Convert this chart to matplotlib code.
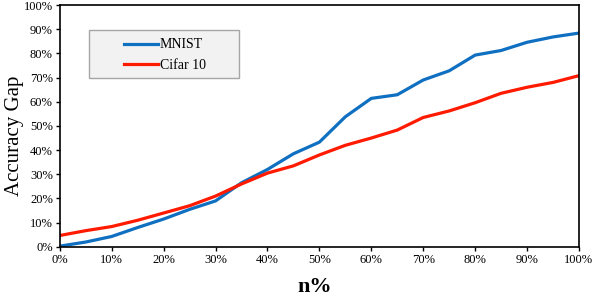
import matplotlib
matplotlib.use('Agg')
import matplotlib.pyplot as plt
from matplotlib.patches import Rectangle
from matplotlib.ticker import PercentFormatter

plt.rcParams['font.family'] = ['Liberation Serif', 'DejaVu Serif']

# 数据
n_pct = [0, 5, 10, 15, 20, 25, 30, 35, 40, 45, 50,
         55, 60, 65, 70, 75, 80, 85, 90, 95, 100]
mnist = [0.3, 2.0, 4.3, 8.0, 11.5, 15.5, 19.0, 26.5, 32.0, 38.5, 43.3,
         53.8, 61.4, 62.9, 69.0, 72.8, 79.3, 81.2, 84.6, 86.8, 88.4]
cifar10 = [4.7, 6.7, 8.4, 11.0, 14.0, 17.0, 21.0, 26.0, 30.5, 33.5, 38.0,
           42.0, 45.0, 48.3, 53.5, 56.2, 59.6, 63.5, 66.0, 68.0, 70.8]

BLUE = '#0f6fc0'
RED = '#ff1a00'

fig = plt.figure(figsize=(5.92, 2.96), dpi=100)
ax = fig.add_axes([0.101, 0.166, 0.877, 0.817])

ax.plot(n_pct, mnist, color=BLUE, linewidth=2.3, label='MNIST')
ax.plot(n_pct, cifar10, color=RED, linewidth=2.3, label='Cifar 10')

ax.set_xlim(0, 100)
ax.set_ylim(0, 100)
ax.set_xticks(range(0, 101, 10))
ax.set_yticks(range(0, 101, 10))
ax.xaxis.set_major_formatter(PercentFormatter(decimals=0))
ax.yaxis.set_major_formatter(PercentFormatter(decimals=0))
ax.tick_params(direction='out', length=3, width=1, labelsize=9, pad=2)

for s in ax.spines.values():
    s.set_linewidth(1.2)
    s.set_color('black')

ax.set_xlabel('n%', fontsize=16, fontweight='bold')
ax.xaxis.set_label_coords(0.49, -0.125)
ax.xaxis.label.set_va('top')
ax.set_ylabel('Accuracy Gap', fontsize=15)
ax.yaxis.set_label_coords(-0.069, 0.459)

# 图例背景框
box = Rectangle((0.056, 0.698), 0.289, 0.199, transform=ax.transAxes,
                facecolor='#f2f2f2', edgecolor='#a6a6a6', linewidth=1.0,
                zorder=4)
ax.add_patch(box)
leg = ax.legend(loc='upper left', bbox_to_anchor=(0.124, 0.862),
                prop={'size': 10}, frameon=False, handlelength=2.4,
                borderpad=0, labelspacing=0.55, borderaxespad=0,
                handletextpad=0.15)
leg.set_zorder(5)

fig.savefig('out.png', dpi=100)
